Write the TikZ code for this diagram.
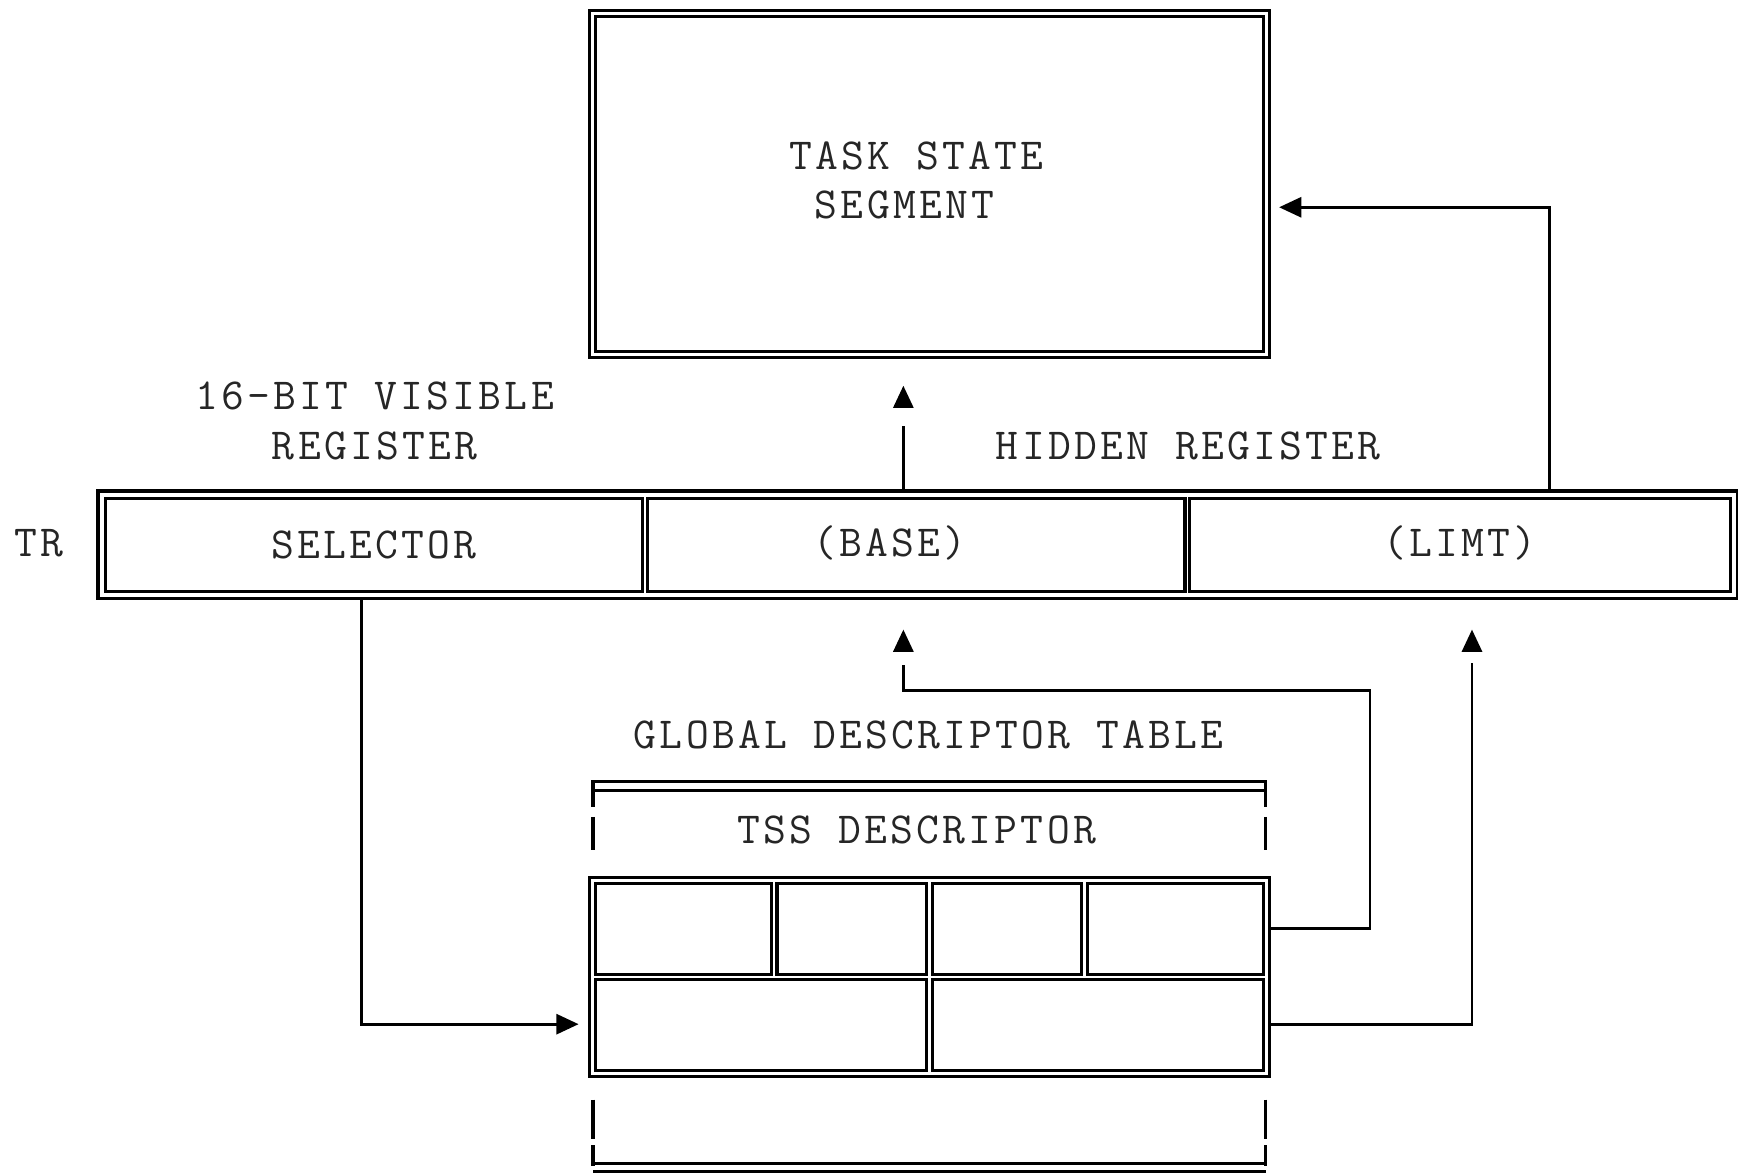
\documentclass[tikz,border=0pt]{standalone}
\usepackage{fontspec}
\newfontfamily\monofnt[LetterSpace=7.3]{Latin Modern Mono}
\usetikzlibrary{fit,arrows.meta}
\begin{document}
\begin{tikzpicture}[x=1pt,y=-1pt,
  ln/.style={line width=2.9pt},
  txt/.style={font=\monofnt\fontsize{40pt}{46pt}\selectfont, text=black!85, inner sep=0pt},
  cell/.style={draw, ln, rectangle, inner sep=0pt, outer sep=0pt, txt},
  frame/.style={draw, ln, rectangle, outer sep=0pt},
  conn/.style={line width=2.6pt},
  tip/.style={-{Triangle[length=20pt,width=18pt]}},
]
\useasboundingbox (0,0) rectangle (1568,1059);

% ---- Task state segment
\node[cell, minimum width=603pt, minimum height=302pt] (tss) at (838.5,166) {};
\node[frame, fit=(tss), inner sep=5.5pt] (tssO) {};
\node[txt, anchor=base west] (tssA) at (712,153) {TASK STATE};
\node[txt, anchor=base west] (tssB) at (735,197) {SEGMENT};

% ---- labels above the register
\node[txt, anchor=base] (vis1) at (338,369) {16-BIT VISIBLE};
\node[txt, anchor=base] (vis2) at (338,415) {REGISTER};
\node[txt, anchor=base] (hid) at (1072,415) {HIDDEN REGISTER};

% ---- TR register
\node[cell, minimum width=485pt, minimum height=84pt] (sel) at (337.5,491.5) {SELECTOR};
\node[cell, minimum width=485pt, minimum height=84pt] (base) at (826.5,491.5) {};
\node[cell, minimum width=488pt, minimum height=84pt] (lim) at (1317,491.5) {};
\node[frame, fit=(sel)(lim), inner sep=6.5pt] (reg) {};
\node[txt, anchor=base] (baseT) at (803,502) {(BASE)};
\node[txt, anchor=base] (limT) at (1317,502) {(LIMT)};
\node[txt, anchor=base] (tr) at (35,502) {TR};

% ---- Global descriptor table
\node[txt, anchor=base] (gdt) at (838,675) {GLOBAL DESCRIPTOR TABLE};
\node[txt, anchor=base] (tssd) at (827,761) {TSS DESCRIPTOR};
\draw[ln] (535,705) -- (1142,705);
\draw[ln] (535,713) -- (1142,713);
\draw[ln] (535,704) -- (535,728) (535,737) -- (535,767);
\draw[ln] (1142,704) -- (1142,728) (1142,737) -- (1142,767);

\node[cell, minimum width=159pt, minimum height=82pt] (d1) at (616.5,838) {};
\node[cell, minimum width=135pt, minimum height=82pt] (d2) at (768.5,838) {};
\node[cell, minimum width=135pt, minimum height=82pt] (d3) at (908.5,838) {};
\node[cell, minimum width=159pt, minimum height=82pt] (d4) at (1060.5,838) {};
\node[cell, minimum width=299pt, minimum height=82pt] (d5) at (686.5,925) {};
\node[cell, minimum width=299pt, minimum height=82pt] (d6) at (990.5,925) {};
\node[frame, fit=(d1)(d6), inner sep=5.5pt] (desc) {};

\draw[ln] (535,992) -- (535,1028) (535,1033) -- (535,1052);
\draw[ln] (1142,992) -- (1142,1028) (1142,1033) -- (1142,1052);
\draw[ln] (535,1050) -- (1142,1050);
\draw[ln] (535,1057) -- (1142,1057);

% ---- connectors
\coordinate (tssIn) at (815,348);
\coordinate (baseIn) at (815,568);
\coordinate (limIn) at (1328,568);

\draw[conn] (815,0 |- reg.north) -- (815,384);
\draw[conn,tip] (815,368) -- (tssIn);

\draw[conn,tip] (1398,0 |- reg.north) |- (1154,187);

\draw[conn,tip] (326,0 |- reg.south) |- (522,924);

\draw[conn] (desc.east |- 0,838) -| (1236,623) -| (815,600);
\draw[conn,tip] (815,588) -- (baseIn);

\draw[conn] (desc.east |- 0,924) -| (1328,598);
\draw[conn,tip] (1328,588) -- (limIn);
\end{tikzpicture}
\end{document}
